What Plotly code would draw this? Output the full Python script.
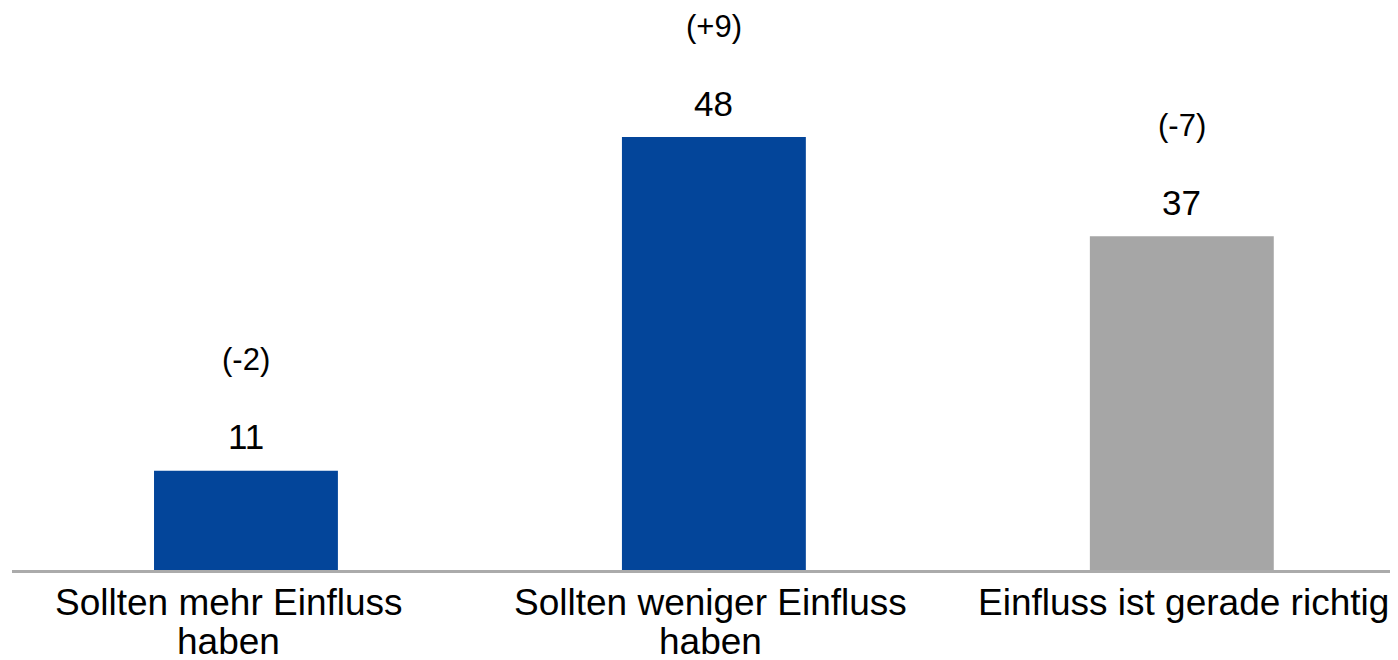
import plotly.graph_objects as go

categories = ["Sollten mehr Einfluss<br>haben", "Sollten weniger Einfluss<br>haben", "Einfluss ist gerade richtig"]
values = [11, 48, 37]
changes = ["(-2)", "(+9)", "(-7)"]
bar_colors = ["#03459a", "#03459a", "#a6a6a6"]

FONT = "Liberation Sans, Arial, sans-serif"
label_xshift = [-17, -3, 2]  # small horizontal nudges of the category labels (styling)

fig = go.Figure()
fig.add_trace(go.Bar(
    x=categories, y=values,
    marker=dict(color=bar_colors, line=dict(width=0)),
    width=0.393,
    hoverinfo="skip",
))

annotations = []
for k, (cat, val, chg) in enumerate(zip(categories, values, changes)):
    annotations.append(dict(x=cat, y=val, xref="x", yref="y", text=str(val), showarrow=False,
                            yanchor="middle", xanchor="center", yshift=34,
                            font=dict(family=FONT, size=35, color="#000000")))
    annotations.append(dict(x=cat, y=val, xref="x", yref="y", text=chg, showarrow=False,
                            yanchor="middle", xanchor="center", yshift=111,
                            font=dict(family=FONT, size=31, color="#000000")))
    for i, line in enumerate(cat.split("<br>")):
        annotations.append(dict(x=cat, y=0, xref="x", yref="paper", text=line, showarrow=False,
                                yanchor="middle", xanchor="center", yshift=-32 - 39 * i,
                                xshift=label_xshift[k],
                                font=dict(family=FONT, size=37, color="#000000")))

fig.update_layout(
    width=1390, height=652,
    margin=dict(l=4, r=0, t=0, b=90),
    paper_bgcolor="white", plot_bgcolor="white",
    showlegend=False,
    annotations=annotations,
    xaxis=dict(range=[-0.5, 2.462], showticklabels=False, ticks="", showgrid=False,
               showline=True, linecolor="#ababab", linewidth=3, zeroline=False, fixedrange=True),
    yaxis=dict(range=[0, 62.3], visible=False, showgrid=False, zeroline=False, fixedrange=True),
)

fig.write_html("out.html", config={"displayModeBar": False})
